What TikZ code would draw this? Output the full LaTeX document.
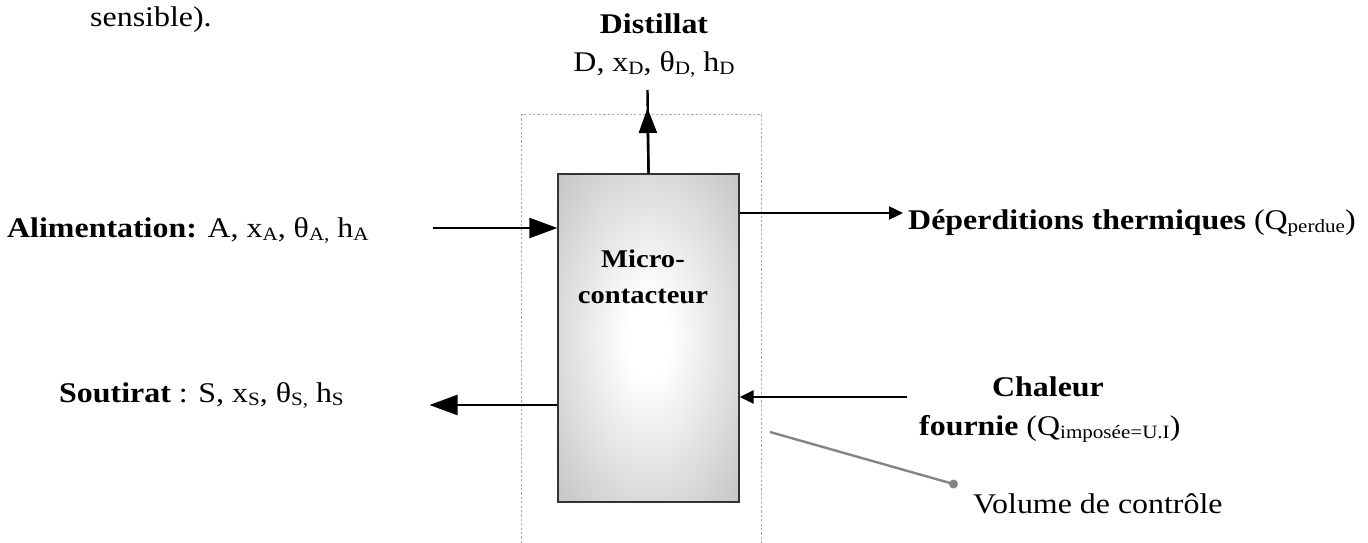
\documentclass[tikz,border=0pt]{standalone}
\usepackage{fontspec}
\usepackage{graphicx}
\setmainfont{Liberation Serif}[FakeStretch=1.12]
\usetikzlibrary{arrows.meta}
\definecolor{boxgray}{HTML}{C0C0C0}
\definecolor{dotgray}{HTML}{A8A8A8}
\definecolor{leadgray}{HTML}{858585}
\pgfdeclareradialshading{boxshade}{\pgfpoint{0bp}{0bp}}{color(0bp)=(white); color(6bp)=(white); color(38bp)=(boxgray); color(100bp)=(boxgray)}
\newcommand\sbs[1]{\raisebox{-0.13em}{\scalebox{0.66}{#1}}}
\tikzset{
  lbl/.style={inner sep=0pt, font=\fontsize{28.5}{36}\selectfont},
  boxlbl/.style={inner sep=0pt, font=\fontsize{25.5}{36}\selectfont\bfseries},
  flow/.style={line width=2.4pt},
  bighead/.style={-{Triangle[length=28pt,width=20pt]}},
  smallhead/.style={-{Triangle[length=14pt,width=13pt]}},
}
\begin{document}
\begin{tikzpicture}[x=1pt,y=-1pt]
\useasboundingbox (0,0) rectangle (1368,543);
% control volume
\draw[dotgray, line width=1.3pt, dash pattern=on 2.2pt off 2.2pt] (521.7,543) -- (521.7,114.3) -- (761.7,114.3) -- (761.7,543);
% micro-contacteur box
\node[draw=black!80, line width=1.3pt, shading=boxshade, minimum width=181pt, minimum height=328pt, inner sep=0pt] (box) at (648.5,338) {};
\node[boxlbl, anchor=base] (t1) at (643,267) {Micro-};
\node[boxlbl, anchor=base] (t2) at (643,303) {contacteur};
% top text
\node[lbl, anchor=base, font=\fontsize{28.5}{36}\selectfont\bfseries] (dist) at (654,33.3) {Distillat};
\node[lbl, anchor=base] (distv) at (654,71) {D, x\sbs{D}, θ\sbs{D,} h\sbs{D}};
\node[lbl, anchor=base west] (sens) at (90,26.7) {sensible).};
% coordinates
\coordinate (dtop) at (647.5,90);
\coordinate (dtip) at (647.5,108);
\coordinate (astart) at (432.5,228);
\coordinate (aend) at (box.west |- astart);
\coordinate (sstart) at (box.west |- 0,405);
\coordinate (send) at (429.5,405);
\coordinate (pstart) at (box.east |- 0,213);
\coordinate (pend) at (903,213);
\coordinate (cstart) at (906.6,397);
\coordinate (cend) at (box.east |- cstart);
\coordinate (lstart) at (770,432);
\coordinate (ldot) at (953.5,484);
% arrows
\draw[flow] (box.north) -- (dtop);
\draw[flow, -{Triangle[length=25pt,width=18pt]}] (box.north) -- (dtip);
\draw[flow, bighead] (astart) -- (aend);
\draw[flow, bighead] (sstart) -- (send);
\draw[flow, smallhead] (pstart) -- (pend);
\draw[flow, smallhead] (cstart) -- (cend);
% labels
\node[lbl, anchor=base west] (alim) at (7,237) {\textbf{Alimentation:} A, x\sbs{A}, θ\sbs{A,} h\sbs{A}};
\node[lbl, anchor=base west] (sout) at (59,402) {\textbf{Soutirat} : S, x\sbs{S}, θ\sbs{S,} h\sbs{S}};
\node[lbl, anchor=base west] (perd) at (908,229) {\textbf{Déperditions thermiques} (Q\sbs{perdue})};
\node[lbl, anchor=base, font=\fontsize{28.5}{36}\selectfont\bfseries] (chal) at (1048,396) {Chaleur};
\node[lbl, anchor=base west] (four) at (919,435) {\textbf{fournie} (Q\sbs{imposée=U.I})};
% leader
\draw[leadgray, line width=2.4pt] (lstart) -- (ldot);
\fill[leadgray] (ldot) circle (4.5pt);
\node[lbl, anchor=base west] (vol) at (973,513) {Volume de contrôle};
\end{tikzpicture}
\end{document}
